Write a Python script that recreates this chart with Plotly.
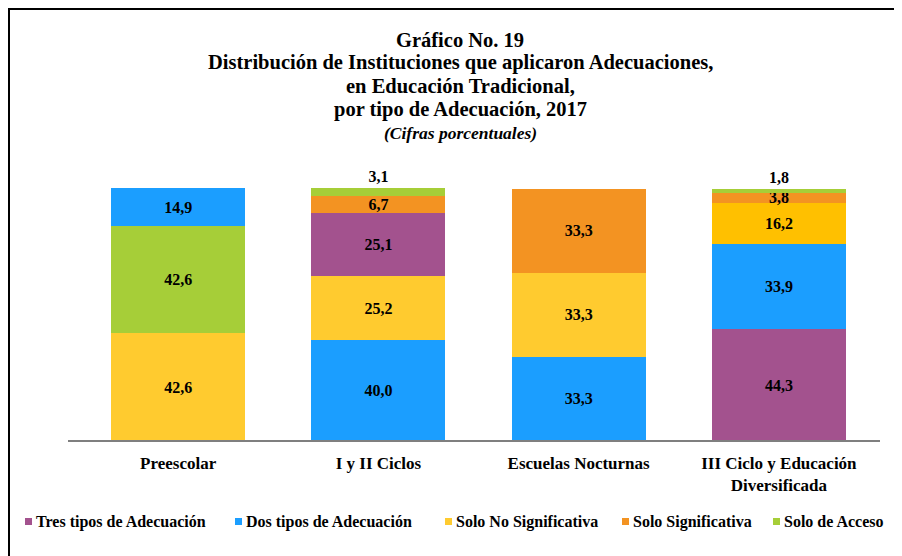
import plotly.graph_objects as go

categories = ["Preescolar", "I y II Ciclos", "Escuelas Nocturnas", "III Ciclo y Educación<br>Diversificada"]
series_names = ["Tres tipos de Adecuación", "Dos tipos de Adecuación", "Solo No Significativa",
                "Solo Significativa", "Solo de Acceso"]
tres = [None, 25.1, None, 44.3]
dos = [14.9, 40.0, 33.3, 33.9]
no_sig = [42.6, 25.2, 33.3, 16.2]
sig = [None, 6.7, 33.3, 3.8]
acceso = [42.6, 3.1, None, 1.8]
values = [tres, dos, no_sig, sig, acceso]

title_lines = ["Gráfico No. 19", "Distribución de Instituciones que aplicaron Adecuaciones,",
               "en Educación Tradicional,", "por tipo de Adecuación, 2017"]
subtitle = "(Cifras porcentuales)"

colors = ["#A3528E", "#1B9EFF", "#FFCB2F", "#F39322", "#A6CE38"]
color_override = {(2, 3): "#FFC000"}  # (series index, category index)

FONT = "Liberation Serif"
OFF = 8  # page margin of the html body
W, H = 902 - OFF, 556 - OFF
# plot area in page pixels of the reference
PL, PR, PT, PB = 78, 879, 188, 441
L, R, T, B = PL - OFF, W - (PR - OFF), PT - OFF, H - (PB - OFF)
PW, PH = W - L - R, H - T - B
YMAX = 100.2


def px_x(x):  # page pixel -> paper coordinate
    return (x - OFF - L) / PW


def px_y(y):
    return (H - B - (y - OFF)) / PH


fig = go.Figure()
for ci, cat in enumerate(categories):
    items = [(si, values[si][ci]) for si in range(len(series_names)) if values[si][ci] is not None]
    items.sort(key=lambda t: -t[1])  # largest at the bottom
    for k, (si, v) in enumerate(items):
        is_top = k == len(items) - 1
        pos = "outside" if (is_top and v < 3.5) else "inside"
        fig.add_trace(go.Bar(
            x=[cat], y=[v], name=series_names[si],
            legendgroup=series_names[si], showlegend=False,
            marker=dict(color=color_override.get((si, ci), colors[si]), line=dict(width=0)),
            texttemplate="<b>%{y:.1f}</b>", textposition=pos,
            insidetextanchor="middle", textangle=0,
            textfont=dict(family=FONT, size=16, color="black"),
            cliponaxis=False, hoverinfo="x+y+name",
        ))

fig.update_layout(
    width=W, height=H,
    barmode="stack", bargap=0.33,
    separators=",.",
    plot_bgcolor="white", paper_bgcolor="white",
    margin=dict(l=L, r=R, t=T, b=B, autoexpand=False),
    uniformtext=dict(minsize=16, mode="show"),
    showlegend=False,
    font=dict(family=FONT, color="black"),
    xaxis=dict(showline=False, ticks="", ticklabelstandoff=10, tickangle=0, automargin=False,
               tickfont=dict(family=FONT, size=17, color="black", weight="bold")),
    yaxis=dict(range=[0, YMAX], visible=False, showgrid=False),
)

# title lines
for y, line in zip([40, 63, 86, 109], title_lines):
    fig.add_annotation(text="<b>" + line + "</b>", xref="paper", yref="paper",
                       x=px_x(460), y=px_y(y), xanchor="center", yanchor="middle",
                       showarrow=False, borderpad=0,
                       font=dict(family=FONT, size=20.5, color="black"))
fig.add_annotation(text="<b><i>" + subtitle + "</i></b>", xref="paper", yref="paper",
                   x=px_x(460), y=px_y(133), xanchor="center", yanchor="middle",
                   showarrow=False, borderpad=0, font=dict(family=FONT, size=17.5, color="black"))

# legend (drawn as swatches + labels in one row, as in the reference)
legend_x = [25, 235, 445, 622, 773]
for si, name in enumerate(series_names):
    x0 = legend_x[si]
    fig.add_shape(type="rect", xref="paper", yref="paper",
                  x0=px_x(x0), x1=px_x(x0 + 7), y0=px_y(525), y1=px_y(518),
                  fillcolor=colors[si], line=dict(width=0))
    fig.add_annotation(text="<b>" + name + "</b>", xref="paper", yref="paper",
                       x=px_x(x0 + 9), y=px_y(521.5), xanchor="left", yanchor="middle",
                       showarrow=False, font=dict(family=FONT, size=16, color="black"))

# category axis baseline
fig.add_shape(type="line", xref="paper", yref="paper", x0=px_x(68), x1=px_x(880), y0=0, y1=0,
              line=dict(color="#7F7F7F", width=2))
# chart frame (left and top edges visible)
fig.add_shape(type="line", xref="paper", yref="paper", x0=px_x(9), x1=px_x(9),
              y0=px_y(8), y1=px_y(600), line=dict(color="black", width=2))
fig.add_shape(type="line", xref="paper", yref="paper", x0=px_x(8), x1=px_x(950),
              y0=px_y(9), y1=px_y(9), line=dict(color="black", width=2))

fig.write_html("out.html")
